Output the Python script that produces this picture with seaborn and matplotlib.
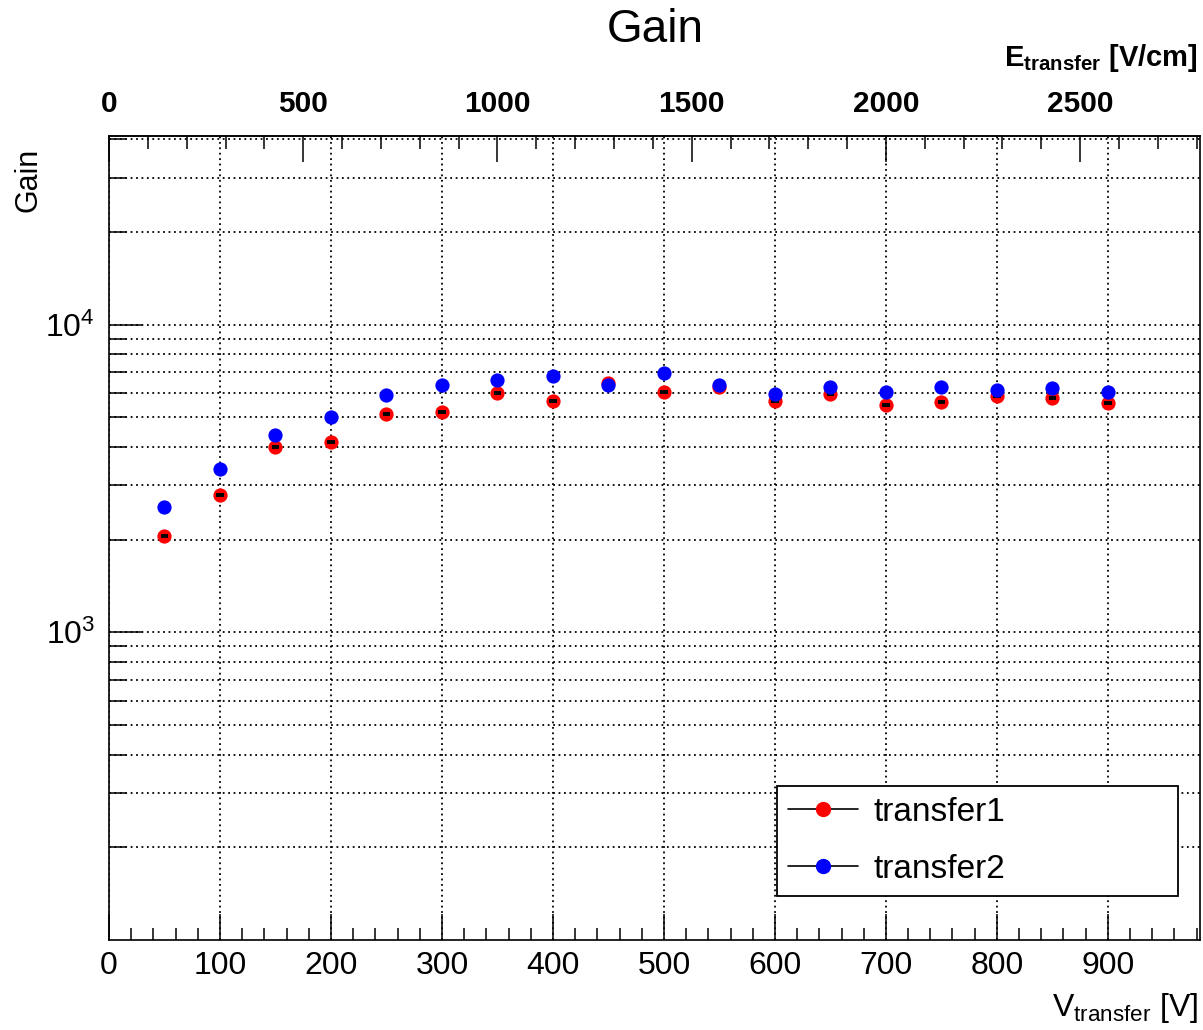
import numpy as np
import pandas as pd
import matplotlib
matplotlib.use("Agg")
import matplotlib.pyplot as plt
import seaborn as sns
from matplotlib.ticker import MultipleLocator, LogLocator, NullFormatter, FixedLocator
from matplotlib.lines import Line2D

# ---- data ----
v_transfer = [50, 100, 150, 200, 250, 300, 350, 400, 450, 500, 550, 600, 650, 700, 750, 800, 850, 900]
gain_transfer1 = [2050, 2800, 4000, 4150, 5140, 5190, 5980, 5660, 6450, 6020, 6280, 5660, 5940, 5460, 5620, 5870, 5790, 5580]
gain_transfer2 = [2550, 3390, 4370, 4990, 5910, 6370, 6610, 6780, 6370, 6950, 6345, 5940, 6290, 6060, 6290, 6110, 6210, 6060]
series_names = ["transfer1", "transfer2"]
series_colors = ["#ff0000", "#0000ff"]
gap_cm = 0.35  # E = V / gap
e_major_ticks = [0, 500, 1000, 1500, 2000, 2500]
y_major_ticks = [1e3, 1e4]

sns.set_theme(style="ticks")
plt.rcParams["font.family"] = ["Liberation Sans", "DejaVu Sans"]
plt.rcParams["mathtext.fontset"] = "custom"
plt.rcParams["mathtext.rm"] = "Liberation Sans"
plt.rcParams["mathtext.it"] = "Liberation Sans"
plt.rcParams["mathtext.bf"] = "Liberation Sans:bold"
plt.rcParams["text.color"] = "black"
plt.rcParams["axes.labelcolor"] = "black"
plt.rcParams["xtick.color"] = "black"
plt.rcParams["ytick.color"] = "black"

df1 = pd.DataFrame({"V": v_transfer, "Gain": gain_transfer1})
df2 = pd.DataFrame({"V": v_transfer, "Gain": gain_transfer2})

fig = plt.figure(figsize=(12.03, 10.30), dpi=100)
L, R, B, T = 109/1203, 1200/1203, 1 - 940/1030, 1 - 136/1030
ax = fig.add_axes([L, B, R - L, T - B])

sns.scatterplot(data=df1, x="V", y="Gain", color=series_colors[0], s=105,
                linewidth=0, ax=ax, zorder=3, legend=False)
ax.errorbar(v_transfer, gain_transfer1, xerr=3.5, fmt="none", ecolor="black",
            elinewidth=2.8, capsize=0, zorder=4)
sns.scatterplot(data=df2, x="V", y="Gain", color=series_colors[1], s=105,
                linewidth=0, ax=ax, zorder=5, legend=False)

ax.set_yscale("log")
ax.set_xlim(0, 983)
ax.set_ylim(100, 41000)

# ticks
ax.xaxis.set_major_locator(MultipleLocator(100))
ax.xaxis.set_minor_locator(MultipleLocator(20))
ax.yaxis.set_major_locator(FixedLocator(y_major_ticks))
ax.yaxis.set_minor_locator(LogLocator(base=10, subs=np.arange(2, 10), numticks=20))
ax.yaxis.set_minor_formatter(NullFormatter())
ax.tick_params(axis="x", which="major", direction="in", length=19, width=1.1,
               labelsize=23, pad=8, top=False, colors="black")
ax.tick_params(axis="x", which="minor", direction="in", length=8.5, width=1.1, top=False)
ax.tick_params(axis="y", which="major", direction="in", length=23.5, width=1.1,
               labelsize=23, pad=10, right=False)
ax.tick_params(axis="y", which="minor", direction="in", length=12, width=1.1, right=False)

for sp in ax.spines.values():
    sp.set_visible(True)
    sp.set_linewidth(1.2)
    sp.set_color("black")

# grid
ax.grid(True, axis="x", which="major", color="black", linestyle=(0, (1, 2)), linewidth=1.3)
ax.grid(True, axis="y", which="both", color="black", linestyle=(0, (1, 2)), linewidth=1.3)
ax.set_axisbelow(True)

# top axis: E_transfer
sec = ax.secondary_xaxis("top", functions=(lambda v: v / gap_cm, lambda e: e * gap_cm))
sec.xaxis.set_major_locator(FixedLocator(e_major_ticks))
sec.xaxis.set_minor_locator(FixedLocator(list(range(0, 2801, 100))))
sec.tick_params(axis="x", which="major", direction="in", length=18.5, width=1.1,
                labelsize=21.5, pad=13, colors="black")
sec.tick_params(axis="x", which="minor", direction="in", length=9.3, width=1.1)
for lab in sec.get_xticklabels():
    lab.set_fontweight("bold")
sec.spines["top"].set_linewidth(1.2)

ax.set_xlabel("")
ax.set_ylabel("")

# labels
fig.text(1198/1203, 1 - 1008/1030, r"$\mathregular{V_{transfer}}$ [V]", fontsize=23,
         ha="right", va="center")
fig.text(1198/1203, 1 - 58/1030, r"$\mathbf{E_{transfer}}$ [V/cm]", fontsize=21,
         fontweight="bold", ha="right", va="center")
fig.text(28/1203, 1 - 148/1030, "Gain", fontsize=22, rotation=90, ha="center", va="top")
fig.text(655/1203, 1 - 30/1030, "Gain", fontsize=33, ha="center", va="center")

# legend
handles = [Line2D([0], [0], color="black", lw=1.2, marker="o", markersize=10,
                  markerfacecolor=c, markeredgecolor=c) for c in series_colors]
leg = ax.legend(handles, series_names, loc="upper left",
                bbox_to_anchor=(777/1203, 1 - 786/1030, 401/1203, 0.0),
                bbox_transform=fig.transFigure, mode="expand", fontsize=24,
                frameon=True, fancybox=False, shadow=False, framealpha=1,
                edgecolor="black", handlelength=2.1, handletextpad=0.45,
                labelspacing=0.78, borderpad=0.33, borderaxespad=0)
leg.get_frame().set_linewidth(1.3)

fig.savefig("out.png", dpi=100)
